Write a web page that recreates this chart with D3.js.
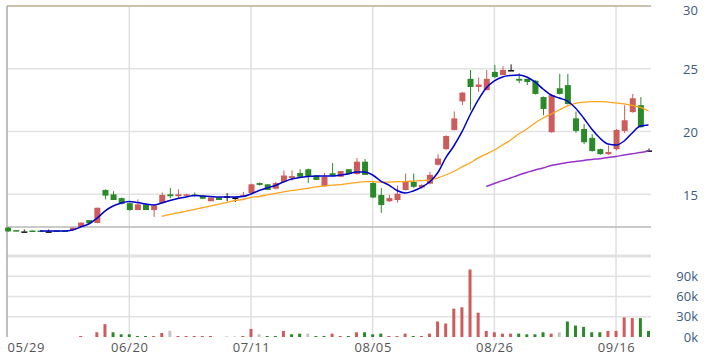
<!DOCTYPE html>
<html>
<head>
  <meta charset="utf-8">
  <title>K線圖</title>
  <script src="https://d3js.org/d3.v7.min.js"></script>
  <style>
    body { margin: 0; background: #fff; }
    text { font-family: "Open Sans", sans-serif; }
  </style>
</head>
<body>
  <svg id="chart"></svg>

  <script>
    // etichette date sull'asse x (indice della candela)
    var dateLabels = ["05/29", "06/20", "07/11", "08/05", "08/26", "09/16"];
    var dateIndex = [0, 15, 30, 45, 60, 75];

    // prezzi giornalieri
    var opens = [12.35, 12.15, 12.05, 12.12, 12.12, 12.05, 12.12, 12.12, 12.15, 12.40,
      12.95, 12.72, 15.35, 15.00, 14.70, 14.30, 13.75, 14.20, 13.75, 14.30,
      15.00, 14.85, 14.90, 14.98, 14.90, 14.45, 14.75, 14.85, 14.75, 14.80,
      15.10, 15.90, 15.80, 15.45, 16.00, 16.30, 16.70, 17.00, 16.50, 15.65,
      16.68, 16.40, 17.00, 16.62, 17.60, 15.90, 14.95, 14.45, 14.55, 15.35,
      16.00, 15.55, 15.85, 17.35, 18.60, 20.12, 22.40, 24.20, 23.55, 23.30,
      24.75, 24.50, 24.90, 24.20, 24.20, 24.05, 22.75, 19.95, 23.45, 23.70,
      21.05, 20.20, 19.50, 18.60, 18.20, 18.60, 20.05, 21.55, 22.10, 18.50];
    var highs = [12.40, 12.15, 12.20, 12.12, 12.12, 12.20, 12.12, 12.12, 12.35, 12.75,
      12.95, 13.95, 15.40, 15.25, 14.75, 14.35, 14.60, 14.20, 14.15, 15.15,
      15.50, 15.40, 15.05, 15.15, 14.90, 14.75, 14.75, 15.10, 14.75, 15.20,
      15.85, 15.95, 15.80, 16.00, 16.90, 16.90, 17.00, 17.05, 16.50, 16.70,
      17.50, 16.85, 17.00, 17.90, 17.82, 16.00, 15.50, 14.95, 15.70, 16.65,
      16.65, 15.80, 16.80, 18.20, 19.70, 21.60, 23.15, 24.90, 24.30, 24.90,
      25.30, 25.20, 25.35, 24.65, 24.20, 24.10, 22.80, 22.95, 24.60, 24.60,
      21.60, 20.60, 19.80, 18.65, 18.90, 20.20, 22.10, 23.00, 22.75, 18.65];
    var lows = [12.00, 12.05, 12.05, 12.05, 12.05, 12.05, 12.05, 12.05, 12.10, 12.38,
      12.70, 12.70, 14.60, 14.55, 14.20, 13.70, 13.75, 13.75, 13.20, 14.30,
      14.70, 14.70, 14.85, 14.80, 14.65, 14.45, 14.55, 14.45, 14.40, 14.80,
      15.05, 15.70, 15.35, 15.40, 16.00, 16.10, 16.40, 15.90, 16.15, 15.60,
      16.45, 16.40, 16.62, 16.55, 16.55, 14.70, 13.52, 14.40, 14.35, 15.30,
      15.50, 15.45, 15.80, 17.30, 18.55, 20.10, 22.10, 21.70, 23.15, 23.30,
      24.25, 24.50, 24.90, 23.85, 23.70, 22.95, 21.30, 19.90, 22.95, 22.15,
      19.90, 19.00, 18.40, 18.15, 18.15, 18.50, 19.90, 21.50, 20.30, 18.50];
    var closes = [12.05, 12.05, 12.05, 12.05, 12.05, 12.05, 12.05, 12.05, 12.35, 12.75,
      12.70, 13.93, 14.90, 14.55, 14.25, 13.75, 14.20, 13.75, 14.10, 14.95,
      14.85, 15.00, 15.00, 14.92, 14.65, 14.75, 14.55, 14.85, 14.75, 14.95,
      15.80, 15.75, 15.35, 15.90, 16.50, 16.45, 16.40, 16.40, 16.15, 16.40,
      16.48, 16.85, 16.62, 17.60, 16.55, 14.75, 14.15, 14.70, 15.05, 16.00,
      15.60, 15.75, 16.55, 17.85, 19.65, 21.05, 23.10, 23.55, 23.75, 24.20,
      24.35, 24.90, 24.90, 24.05, 23.95, 23.00, 21.80, 22.90, 23.00, 22.20,
      20.05, 19.15, 18.45, 18.20, 18.37, 20.13, 20.90, 22.65, 20.35, 18.50];

    // medie mobili (5, 20, 60 giorni)
    var ma5 = [null, null, null, null, 12.08, 12.08, 12.08, 12.08, 12.16, 12.40,
      12.64, 13.08, 13.67, 14.07, 14.31, 14.43, 14.35, 14.23, 14.15, 14.31,
      14.51, 14.67, 14.79, 14.91, 14.87, 14.83, 14.79, 14.79, 14.79, 14.83,
      15.03, 15.31, 15.51, 15.71, 15.98, 16.22, 16.34, 16.42, 16.46, 16.46,
      16.46, 16.54, 16.62, 16.78, 16.78, 16.54, 16.06, 15.74, 15.31, 15.11,
      15.27, 15.55, 15.98, 16.70, 17.90, 18.85, 19.97, 21.32, 22.51, 23.47,
      24.03, 24.35, 24.47, 24.51, 24.35, 23.95, 23.39, 22.91, 22.67, 22.43,
      21.88, 21.08, 20.20, 19.49, 19.01, 18.93, 19.25, 19.89, 20.44, 20.52];
    var ma20 = [null, null, null, null, null, null, null, null, null, null,
      null, null, null, null, null, null, null, null, null, 13.24,
      13.40, 13.52, 13.67, 13.79, 13.95, 14.07, 14.23, 14.35, 14.51, 14.59,
      14.75, 14.83, 14.95, 15.07, 15.19, 15.31, 15.39, 15.47, 15.59, 15.67,
      15.74, 15.78, 15.86, 15.94, 16.01, 16.01, 15.98, 15.98, 16.01, 16.02,
      16.06, 16.10, 16.14, 16.30, 16.54, 16.82, 17.18, 17.50, 17.90, 18.21,
      18.53, 18.93, 19.33, 19.81, 20.20, 20.68, 21.08, 21.40, 21.72, 22.04,
      22.24, 22.35, 22.39, 22.39, 22.35, 22.28, 22.20, 22.08, 21.92, 21.64];
    var ma60 = [null, null, null, null, null, null, null, null, null, null,
      null, null, null, null, null, null, null, null, null, null,
      null, null, null, null, null, null, null, null, null, null,
      null, null, null, null, null, null, null, null, null, null,
      null, null, null, null, null, null, null, null, null, null,
      null, null, null, null, null, null, null, null, null, 15.63,
      15.86, 16.09, 16.30, 16.54, 16.74, 16.94, 17.10, 17.30, 17.42, 17.54,
      17.62, 17.70, 17.78, 17.84, 17.94, 18.02, 18.13, 18.23, 18.33, 18.45];

    // volumi (migliaia) e direzione rispetto alla chiusura precedente
    var volumes = [0, 0, 0, 0, 0, 0, 0, 0, 0, 1.5,
      0, 7, 19, 7, 4, 4, 1.5, 1.5, 1.5, 6,
      9, 1.5, 1.5, 1.5, 1.5, 1.5, 0, 1, 1, 1.5,
      12, 4, 1.5, 1.5, 9, 4, 5, 5, 1.5, 1.5,
      5, 1.5, 1.5, 7, 7, 4, 5, 1.5, 1.5, 5,
      1.5, 1.5, 5, 23, 20, 42, 44, 100, 36, 9,
      7, 5, 5, 5, 4, 4, 7, 5, 7, 23,
      17, 15, 7, 7, 9, 9, 29, 28, 28, 9];
    var volumeDir = ["n", "n", "n", "n", "n", "n", "n", "n", "n", "u",
      "n", "u", "u", "d", "d", "d", "d", "d", "u", "u",
      "n", "u", "u", "u", "u", "u", "n", "n", "n", "u",
      "u", "n", "d", "d", "u", "d", "d", "n", "d", "d",
      "u", "u", "d", "u", "d", "d", "d", "u", "u", "u",
      "d", "u", "u", "u", "u", "u", "u", "u", "u", "u",
      "u", "u", "u", "d", "d", "d", "d", "u", "n", "d",
      "d", "d", "d", "d", "u", "u", "u", "u", "d", "d"];

    var priceTicks = [15, 20, 25, 30];
    var volumeTicks = [0, 30, 60, 90];

    var width = 708, height = 360;
    var red = "#cd5c5c", green = "#2a8a2a", grey = "#c4c4c4";

    var svg = d3.select("#chart")
      .attr("width", width)
      .attr("height", height);

    var x = d3.scaleLinear().domain([0, closes.length - 1]).range([7.6, 648.5]);
    var y = d3.scaleLinear().domain([12.4, 30]).range([227, 6]);
    var yv = d3.scaleLinear().domain([0, 120]).range([337, 256]);

    var plotLeft = 7, plotRight = 651;

    // griglia orizzontale prezzi
    svg.selectAll(".hgrid")
      .data([15, 20, 25])
      .enter().append("line")
      .attr("x1", plotLeft).attr("x2", plotRight)
      .attr("y1", function(d) { return y(d); })
      .attr("y2", function(d) { return y(d); })
      .attr("stroke", "#e2e2e2").attr("stroke-width", 1.5);

    // griglia volumi
    svg.selectAll(".vgridv")
      .data([30, 60, 90])
      .enter().append("line")
      .attr("x1", plotLeft).attr("x2", plotRight)
      .attr("y1", function(d) { return yv(d); })
      .attr("y2", function(d) { return yv(d); })
      .attr("stroke", "#e2e2e2").attr("stroke-width", 1.5);

    svg.append("line")
      .attr("x1", plotLeft).attr("x2", plotRight)
      .attr("y1", yv(120)).attr("y2", yv(120))
      .attr("stroke", "#e2e2e2").attr("stroke-width", 3);

    // griglia verticale sulle date
    svg.selectAll(".xgrid")
      .data(dateIndex.slice(1))
      .enter().append("line")
      .attr("x1", function(d) { return x(d); })
      .attr("x2", function(d) { return x(d); })
      .attr("y1", 6).attr("y2", 340)
      .attr("stroke", "#e0e0e0").attr("stroke-width", 1.5);

    // bordi
    svg.append("line")
      .attr("x1", plotLeft).attr("x2", plotRight)
      .attr("y1", y(30)).attr("y2", y(30))
      .attr("stroke", "#c9c1ae").attr("stroke-width", 2);
    svg.append("line")
      .attr("x1", plotLeft).attr("x2", plotRight)
      .attr("y1", y(12.4)).attr("y2", y(12.4))
      .attr("stroke", "#b8b8b8").attr("stroke-width", 1.5);
    svg.append("line")
      .attr("x1", plotLeft).attr("x2", plotLeft)
      .attr("y1", 6).attr("y2", yv(0))
      .attr("stroke", "#aaaaaa").attr("stroke-width", 1.5);

    // barre dei volumi
    svg.selectAll(".vol")
      .data(volumes)
      .enter().append("rect")
      .attr("x", function(d, i) { return x(i) - 1.5; })
      .attr("width", 3)
      .attr("y", function(d) { return yv(d); })
      .attr("height", function(d) { return yv(0) - yv(d); })
      .attr("fill", function(d, i) {
        return volumeDir[i] == "u" ? red : (volumeDir[i] == "d" ? green : grey);
      });

    // candele
    function candleColor(i) {
      if (closes[i] > opens[i]) return red;
      if (closes[i] < opens[i]) return green;
      return "#111";
    }

    var candles = svg.selectAll(".candle")
      .data(closes)
      .enter().append("g");

    candles.append("line")
      .attr("x1", function(d, i) { return x(i) + 0.5; })
      .attr("x2", function(d, i) { return x(i) + 0.5; })
      .attr("y1", function(d, i) { return y(highs[i]); })
      .attr("y2", function(d, i) { return y(lows[i]); })
      .attr("stroke", function(d, i) { return candleColor(i); })
      .attr("stroke-width", 1);

    candles.append("rect")
      .attr("x", function(d, i) { return x(i) - 2.5; })
      .attr("width", 6)
      .attr("y", function(d, i) { return y(Math.max(opens[i], closes[i])); })
      .attr("height", function(d, i) {
        return Math.max(1.5, Math.abs(y(opens[i]) - y(closes[i])));
      })
      .attr("fill", function(d, i) { return candleColor(i); });

    // medie mobili
    function maLine(values, color, w) {
      var line = d3.line()
        .defined(function(d) { return d != null; })
        .x(function(d, i) { return x(i); })
        .y(function(d) { return y(d); })
        .curve(d3.curveMonotoneX);
      svg.append("path")
        .attr("d", line(values))
        .attr("fill", "none")
        .attr("stroke", color)
        .attr("stroke-width", w);
    }
    maLine(ma60, "#9932cc", 1.5);
    maLine(ma20, "#ffa31a", 1.3);
    maLine(ma5, "#0000cc", 1.5);

    // assi
    var priceAxis = svg.append("g")
      .attr("transform", "translate(683,0)")
      .call(d3.axisRight(y).tickValues(priceTicks).tickSize(0).tickPadding(0));
    priceAxis.select(".domain").remove();
    priceAxis.selectAll("text")
      .attr("fill", "#3a5a7e")
      .attr("dy", function(d) { return d == 30 ? "0.62em" : "0.38em"; })
      .style("font-size", "13px");

    var volAxis = svg.append("g")
      .attr("transform", "translate(698,0)")
      .call(d3.axisLeft(yv).tickValues(volumeTicks).tickSize(0).tickPadding(0)
        .tickFormat(function(d) { return d + "k"; }));
    volAxis.select(".domain").remove();
    volAxis.selectAll("text")
      .attr("fill", "#3a5a7e").style("font-size", "13px");

    var dateAxis = svg.append("g")
      .attr("transform", "translate(0,343)")
      .call(d3.axisBottom(x).tickValues(dateIndex).tickSize(0).tickPadding(0)
        .tickFormat(function(d, i) { return dateLabels[i]; }));
    dateAxis.select(".domain").remove();
    dateAxis.selectAll("text")
      .attr("fill", "#555").style("font-size", "13px")
      .style("letter-spacing", "0.6px")
      .attr("text-anchor", function(d, i) { return i == 0 ? "start" : "middle"; })
      .attr("x", function(d, i) { return i == 0 ? -0.6 : 0; });
  </script>
</body>
</html>
